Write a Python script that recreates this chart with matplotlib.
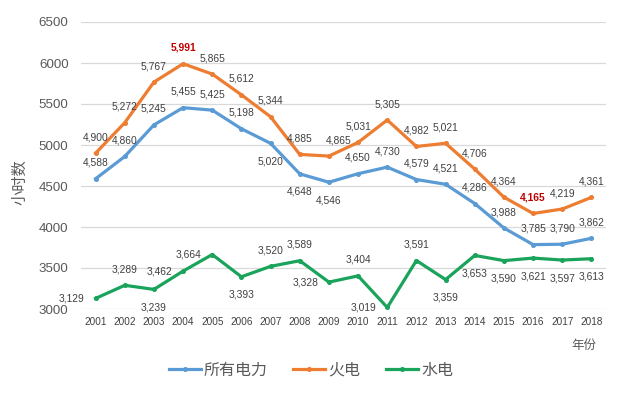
import matplotlib
matplotlib.use("Agg")
import matplotlib.pyplot as plt

years = ["2001", "2002", "2003", "2004", "2005", "2006", "2007", "2008", "2009",
         "2010", "2011", "2012", "2013", "2014", "2015", "2016", "2017", "2018"]
all_power = [4588, 4860, 5245, 5455, 5425, 5198, 5020, 4648, 4546,
             4650, 4730, 4579, 4521, 4286, 3988, 3785, 3790, 3862]
thermal = [4900, 5272, 5767, 5991, 5865, 5612, 5344, 4885, 4865,
           5031, 5305, 4982, 5021, 4706, 4364, 4165, 4219, 4361]
hydro = [3129, 3289, 3239, 3462, 3664, 3393, 3520, 3589, 3328,
         3404, 3019, 3591, 3359, 3653, 3590, 3621, 3597, 3613]
series_names = ["所有电力", "火电", "水电"]
y_ticks = [3000, 3500, 4000, 4500, 5000, 5500, 6000, 6500]

# label placement (style only)
pos_all = ["a", "a", "a", "a", "a", "a", "b", "b", "b", "a", "a", "a", "a", "a", "a", "a", "a", "a"]
pos_thermal = ["a", "a", "a", "a", "a", "a", "a", "a", "ar", "a", "a", "a", "a", "a", "a", "a", "a", "a"]
pos_hydro = ["l", "a", "b", "l", "l", "b", "a", "a", "l", "a", "l", "a", "b", "b", "b", "b", "b", "b"]
highlight_thermal = {3, 15}

colors = ["#5B9BD5", "#ED7D31", "#1AA35A"]
txt_gray = "#595959"
lbl_gray = "#404040"
FONT = ["Liberation Sans", "Noto Sans CJK SC", "DejaVu Sans"]
plt.rcParams["font.family"] = FONT

fig = plt.figure(figsize=(6.2, 3.96), dpi=100)
ax = fig.add_axes([81 / 620, 87 / 396, 525 / 620, 287 / 396])
x = list(range(len(years)))

for vals, c, name in zip([all_power, thermal, hydro], colors, series_names):
    ax.plot(x, vals, color=c, lw=2.3, marker="o", ms=2.6, label=name,
            solid_joinstyle="round", zorder=3)

offsets = {"a": (0, 11.5), "b": (0, -13), "l": (-17, 0), "ar": (7, 11.5)}

def put_labels(vals, poss, hl=()):
    for i, (v, p) in enumerate(zip(vals, poss)):
        dx, dy = offsets[p]
        if i in hl:
            kw = dict(color="#C00000", fontweight="bold")
        else:
            kw = dict(color=lbl_gray)
        ax.annotate(f"{v:,}", (i, v), xytext=(dx, dy), textcoords="offset points",
                    ha="center", va="center", fontsize=7.4, zorder=4, **kw)

put_labels(all_power, pos_all)
put_labels(thermal, pos_thermal, highlight_thermal)
put_labels(hydro, pos_hydro)

ax.set_xlim(-0.5, len(years) - 0.5)
ax.set_ylim(3000, 6500)
ax.set_yticks(y_ticks)
ax.set_yticklabels([str(t) for t in y_ticks], fontsize=9.6, color=txt_gray)
ax.set_xticks(x)
ax.set_xticklabels(years, fontsize=7.2, color=lbl_gray)
ax.tick_params(axis="y", length=0, pad=9)
ax.tick_params(axis="x", length=0, pad=6)
ax.grid(axis="y", color="#D9D9D9", lw=0.9, zorder=0)
ax.set_axisbelow(True)
for s in ax.spines.values():
    s.set_visible(False)

fig.text(20 / 620, 1 - 182 / 396, "小时数", rotation=90, ha="center", va="center",
         fontsize=11, color=txt_gray, family=["Noto Sans CJK SC", "DejaVu Sans"])
fig.text(584 / 620, 1 - 345 / 396, "年份", ha="center", va="center",
         fontsize=9, color=txt_gray, family=["Noto Sans CJK SC", "DejaVu Sans"])

leg = fig.legend(loc="center", bbox_to_anchor=(311 / 620, 26 / 396), ncol=3,
                 frameon=False, handlelength=2.0, handletextpad=0.2, columnspacing=1.6,
                 prop={"family": ["Noto Sans CJK SC", "DejaVu Sans"], "size": 11.5})
for t in leg.get_texts():
    t.set_color(txt_gray)

fig.savefig("out.png", dpi=100, facecolor="white")
